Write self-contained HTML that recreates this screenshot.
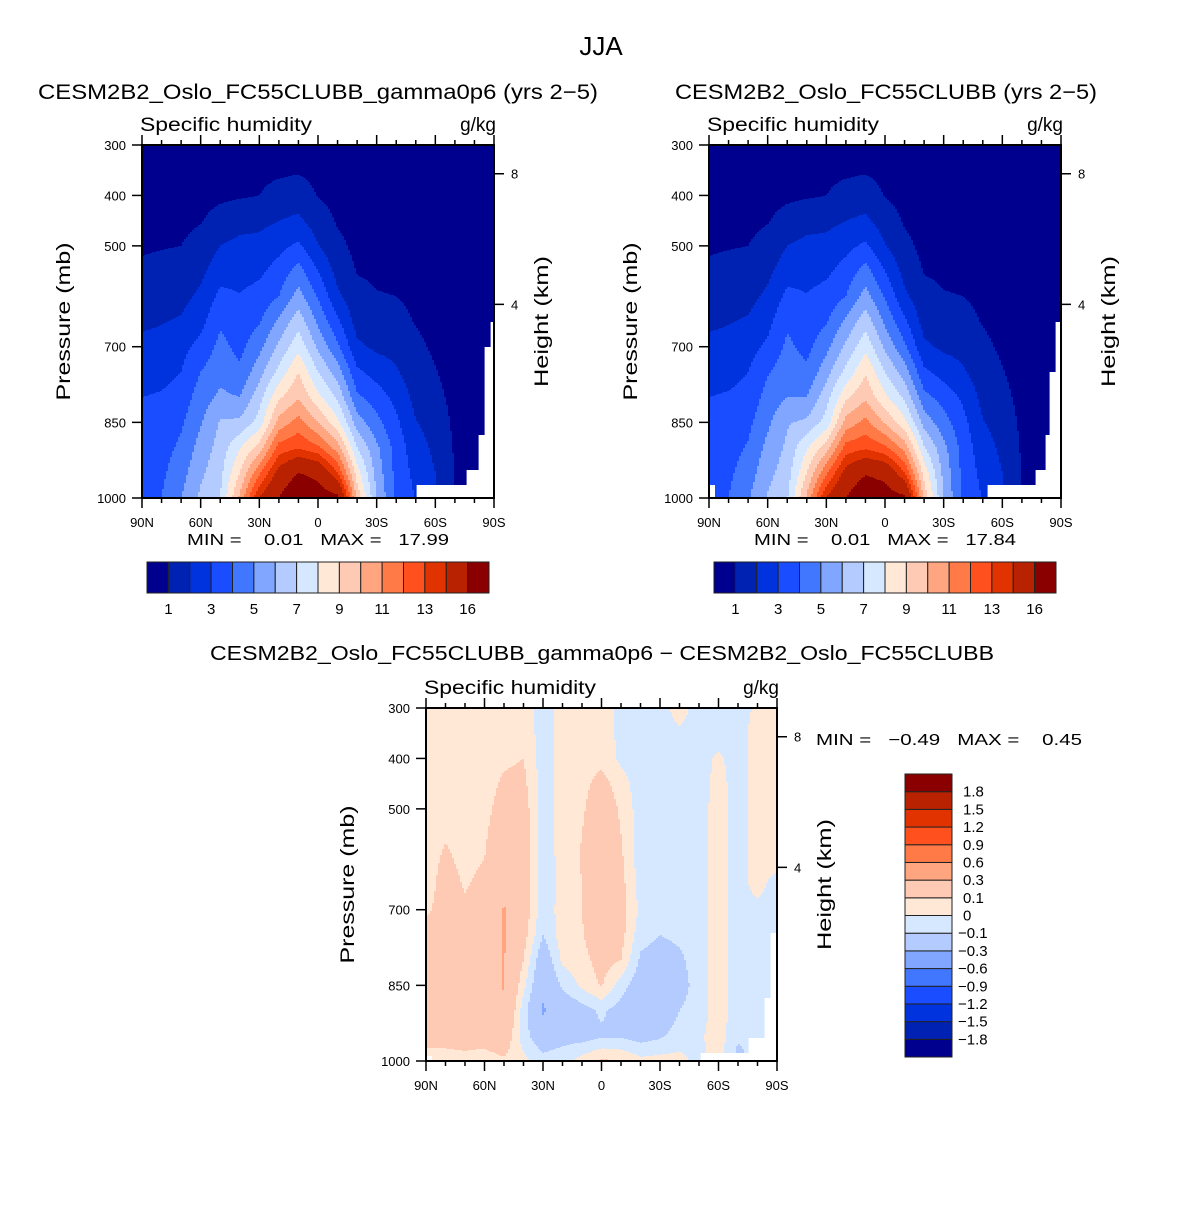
<!DOCTYPE html>
<html><head><meta charset="utf-8"><style>
html,body{margin:0;padding:0;background:#fff;}
svg{display:block;font-family:"Liberation Sans",Helvetica,sans-serif;}
svg text{white-space:pre;}
</style></head><body>
<svg id="fig" width="1204" height="1206" viewBox="0 0 1204 1206" xmlns="http://www.w3.org/2000/svg" xml:space="preserve">
<rect x="0" y="0" width="1204" height="1206" fill="#fff"/>
<text x="601" y="55" font-size="26" text-anchor="middle">JJA</text>
<text x="38" y="99" font-size="21" textLength="560" lengthAdjust="spacingAndGlyphs">CESM2B2_Oslo_FC55CLUBB_gamma0p6 (yrs 2−5)</text>
<text x="675" y="99" font-size="21" textLength="422" lengthAdjust="spacingAndGlyphs">CESM2B2_Oslo_FC55CLUBB (yrs 2−5)</text>
<text x="210" y="660" font-size="20" textLength="784" lengthAdjust="spacingAndGlyphs">CESM2B2_Oslo_FC55CLUBB_gamma0p6 − CESM2B2_Oslo_FC55CLUBB</text>
<g id="layer"></g>
</svg>
<script>
// ---------- data ----------
const lats = [90,80,70,60,50,40,30,20,10,0,-10,-20,-30,-40,-50,-60,-70,-80,-90];
const pLevels = [300,350,400,450,500,550,600,650,700,750,800,850,900,950,1000];
const qLeft = [
[.3,.45,.6,.75,.9,1.15,1.5,1.85,2.2,2.6,3.0,3.2,3.35,3.5,3.6],
[.3,.45,.6,.8,.95,1.25,1.6,1.95,2.3,2.7,3.1,3.4,3.6,3.8,4.0],
[.35,.5,.65,.8,1.0,1.3,1.7,2.1,2.7,3.0,3.4,3.85,4.2,4.6,5.0],
[.4,.55,.75,.95,1.3,1.75,2.2,2.7,3.3,4.0,4.5,4.9,5.4,5.8,6.2],
[.45,.65,.85,1.3,2.0,2.6,3.25,3.85,4.3,4.7,5.2,6.1,6.4,6.7,7.0],
[.5,.7,.9,1.6,2.3,2.65,3.05,3.4,3.7,4.2,5.0,6.2,7.9,9.0,10.2],
[.55,.8,1.0,1.75,2.3,2.8,3.35,3.9,4.7,5.6,6.6,7.4,9.4,11.8,14.1],
[.6,.85,1.3,2.0,2.7,3.4,4.0,5.2,6.2,7.3,8.8,10.4,12.4,14.5,16],
[.7,.9,1.5,2.2,3.2,4.4,5.4,6.6,7.7,9.0,9.9,11.4,12.9,16,18],
[.5,.75,.95,1.5,2.05,3.0,3.9,4.8,5.8,7.0,8.3,10,12.2,15.5,17],
[.35,.5,.7,.9,1.25,1.65,2.2,3.2,4.2,5.5,6.8,8.3,10.5,13,16.5],
[.3,.35,.45,.6,.75,.95,1.3,1.6,2.2,3.2,4.2,5.5,7.0,8.5,9.7],
[.25,.3,.4,.55,.7,.85,1.05,1.4,1.8,2.6,3.5,4.3,5.2,5.6,6.0],
[.2,.25,.3,.45,.6,.8,1.0,1.3,1.7,2.1,2.7,3.2,3.6,3.7,3.8],
[.2,.25,.3,.4,.5,.7,.8,.95,1.2,1.45,1.7,2.05,2.4,2.7,2.95],
[.15,.2,.25,.3,.35,.45,.55,.7,.85,1.05,1.3,1.6,1.8,2.0,2.1],
[.1,.12,.15,.2,.25,.3,.35,.4,.5,.6,.7,.8,.9,.95,1.0],
[.08,.1,.12,.15,.2,.25,.3,.35,.4,.45,.5,.55,.6,.65,.7],
[.05,.08,.1,.12,.15,.2,.25,.3,.35,.4,.45,.5,.55,.6,.65]];
const qRight = [
[.3,.45,.6,.75,.9,1.15,1.5,1.85,2.2,2.6,3.0,3.2,3.35,3.5,3.6],
[.3,.45,.6,.8,.95,1.25,1.6,1.95,2.3,2.7,3.1,3.4,3.6,3.8,4.0],
[.35,.5,.65,.8,1.0,1.3,1.7,2.1,2.6,3.0,3.3,3.75,4.1,4.5,4.9],
[.4,.55,.75,.95,1.3,1.75,2.2,2.7,3.2,3.9,4.4,4.8,5.3,5.7,6.1],
[.45,.65,.85,1.3,2.0,2.6,3.25,3.85,4.2,4.6,5.0,5.9,6.2,6.5,6.9],
[.5,.7,.9,1.6,2.3,2.65,3.05,3.4,3.7,4.2,5.0,6.2,7.9,9.0,10.2],
[.55,.8,1.0,1.75,2.3,2.8,3.35,3.9,4.7,5.6,6.6,7.4,9.5,11.8,14.1],
[.6,.85,1.3,2.0,2.7,3.4,4.0,5.2,6.2,7.3,8.8,10.4,12.4,14.5,16],
[.7,.9,1.5,2.2,3.2,4.4,5.4,6.6,7.7,8.9,9.8,11.3,12.8,15.8,17.8],
[.5,.75,.95,1.5,2.05,3.0,3.9,4.8,5.8,7.0,8.2,9.9,12.2,15.4,16.9],
[.35,.5,.7,.9,1.25,1.65,2.2,3.2,4.2,5.5,6.8,8.3,10.6,13,16.4],
[.3,.35,.45,.6,.75,.95,1.3,1.6,2.2,3.2,4.3,5.6,7.1,8.6,9.7],
[.25,.3,.4,.55,.7,.85,1.05,1.4,1.8,2.6,3.6,4.4,5.3,5.7,6.0],
[.2,.25,.3,.45,.6,.8,1.0,1.3,1.7,2.1,2.8,3.3,3.6,3.7,3.8],
[.2,.25,.3,.4,.5,.7,.8,.95,1.2,1.45,1.7,2.05,2.4,2.7,2.95],
[.15,.2,.25,.3,.35,.45,.55,.7,.85,1.05,1.3,1.6,1.8,2.0,2.1],
[.1,.12,.15,.2,.25,.3,.35,.4,.5,.6,.7,.8,.9,.95,1.0],
[.08,.1,.12,.15,.2,.25,.3,.35,.4,.45,.5,.55,.6,.65,.7],
[.05,.08,.1,.12,.15,.2,.25,.3,.35,.4,.45,.5,.55,.6,.65]];
const qDiff = [
[.05,.05,.05,.05,.05,.05,.05,.05,.08,.15,.15,.15,.15,.15,.05],
[.05,.05,.05,.05,.06,.09,.12,.15,.15,.16,.17,.17,.17,.15,.05],
[.05,.05,.05,.05,.05,.06,.07,.09,.12,.15,.17,.17,.17,.16,.06],
[.05,.05,.05,.05,.06,.08,.1,.13,.16,.18,.18,.18,.18,.15,.05],
[.05,.06,.08,.12,.16,.2,.24,.28,.31,.31,.31,.31,.29,.2,.08],
[.06,.07,.1,.13,.16,.18,.19,.19,.18,.15,.1,.03,-.05,-.05,.03],
[-.05,-.05,-.05,-.05,-.05,-.05,-.05,-.05,-.06,-.1,-.2,-.25,-.32,-.2,-.05],
[.04,.04,.04,.04,.04,.04,.03,.02,.04,.05,.02,-.08,-.2,-.15,-.03],
[.04,.05,.05,.06,.08,.1,.11,.1,.1,.09,.06,.02,-.15,-.15,.04],
[.03,.04,.06,.15,.2,.22,.28,.25,.22,.2,.15,.11,-.08,-.12,.12],
[-.02,-.02,-.02,.04,.08,.1,.12,.14,.15,.14,.1,-.05,-.15,-.12,.1],
[-.05,-.05,-.05,-.05,-.05,-.05,-.05,-.05,-.02,-.06,-.12,-.18,-.22,-.15,.03],
[-.05,-.05,-.05,-.05,-.05,-.05,-.05,-.05,-.06,-.1,-.15,-.22,-.2,-.12,.04],
[.05,-.02,-.05,-.05,-.05,-.05,-.05,-.05,-.05,-.08,-.12,-.15,-.1,-.05,.03],
[-.05,-.05,-.05,-.05,-.05,-.05,-.05,-.05,-.05,-.05,-.05,-.05,-.05,-.02,-.03],
[-.05,-.05,.02,.04,.05,.05,.05,.05,.05,.05,.05,.05,.05,.05,.05],
[-.05,-.05,-.05,-.05,-.05,-.05,-.05,-.05,-.05,-.05,-.05,-.05,-.05,-.08,-.15],
[.02,.05,.05,.05,.05,.05,.05,.04,-.03,-.05,-.05,-.05,-.05,-.05,-.05],
[.05,.05,.05,.05,.05,.05,.05,-.05,-.05,-.05,-.05,-.05,-.05,-.05,-.05]];
const levelsQ = [1,2,3,4,5,6,7,8,9,10,11,12,13,14,16];
const levelsD = [-1.8,-1.5,-1.2,-0.9,-0.6,-0.3,-0.1,0,0.1,0.3,0.6,0.9,1.2,1.5,1.8];
const labelsQ = ["1","3","5","7","9","11","13","16"];
const labelsD = ["1.8","1.5","1.2","0.9","0.6","0.3","0.1","0","−0.1","−0.3","−0.6","−0.9","−1.2","−1.5","−1.8"];
const palette = ["#00008f","#0022b3","#0033dd","#1a4dff","#4177ff","#80a6ff","#b4cbff","#d6e8ff","#ffe8d6","#ffcab3","#ffa680","#ff7a46","#ff501e","#e03300","#b82200","#8a0000"];
const maskLatL = [-50,-75.5,-82,-85,-88];
const maskPL = [975,945,875,700,650];
const maskLatR = [-52,-77,-82,-84,-87,87];
const maskPR = [975,945,875,750,650,975];
const maskLatD = [-51,-75,-83,-86,87];
const maskPD = [985,955,876,747,990];
const pTicks = [300,400,500,700,850,1000];
const latTicks = [90,60,30,0,-30,-60,-90];
const latTickLabels = ["90N","60N","30N","0","30S","60S","90S"];
const kmTicks = [8,4];
const kmTickP = [357,616];

// ---------- helpers ----------
const NS = "http://www.w3.org/2000/svg";
const layer = document.getElementById('layer');
function mk(tag, attrs, parent){const e=document.createElementNS(NS,tag);for(const k in attrs)e.setAttribute(k,attrs[k]);(parent||layer).appendChild(e);return e;}
function interp(grid, lat, p){
  let fi=(90-lat)/10, fj=(p-300)/50;
  fi=Math.max(0,Math.min(18,fi)); fj=Math.max(0,Math.min(14,fj));
  const i0=Math.min(17,Math.floor(fi)), j0=Math.min(13,Math.floor(fj));
  const a=fi-i0, b=fj-j0;
  return grid[i0][j0]*(1-a)*(1-b)+grid[i0+1][j0]*a*(1-b)+grid[i0][j0+1]*(1-a)*b+grid[i0+1][j0+1]*a*b;
}
function levIdx(v, levels){let k=0;while(k<levels.length&&v>=levels[k])k++;return k;}
function masked(lat,p,mLat,mP){for(let i=0;i<mLat.length;i++){const t=mLat[i];if((t<0?lat<t:lat>t)&&p>mP[i])return true;}return false;}

function panel(box, grid, levels, mLat, mP, name){
  const g=mk('g',{});
  
  
  const xOf=lat=>box.x+(90-lat)/180*box.w;
  const yOf=p=>box.y+(p-300)/700*box.h;
  const latOf=x=>90-(x-box.x)/box.w*180;
  const pOf=y=>300+(y-box.y)/box.h*700;
  for(let x=box.x;x<box.x+box.w;x+=2){
    const lat=latOf(x+1);
    let start=box.y, cur=null;
    for(let y=box.y;y<=box.y+box.h;y++){
      let c=null;
      if(y<box.y+box.h){const p=pOf(y+0.5); if(!masked(lat,p,mLat,mP)) c=palette[levIdx(interp(grid,lat,p),levels)];}
      else c='__end';
      if(c!==cur){
        if(cur&&cur!=='__end'){
          const r=mk('rect',{x:x,y:start,width:Math.min(2.6,box.x+box.w-x),height:y-start,fill:cur},g);
          
          
        }
        cur=c; start=y;
      }
    }
  }
  const fr=mk('rect',{x:box.x,y:box.y,width:box.w,height:box.h,fill:'none',stroke:'#000','stroke-width':2},g);
  
  
  for(let lat=90;lat>=-90;lat-=10){
    const x=xOf(lat), major=(lat%30===0);
    const t=mk('line',{x1:x,x2:x,y1:box.y+box.h,y2:box.y+box.h+(major?10:5),stroke:'#000','stroke-width':1.5},g);
    
    
    const t2=mk('line',{x1:x,x2:x,y1:box.y,y2:box.y-(major?10:5),stroke:'#000','stroke-width':1.5},g);
    
    
  }
  latTicks.forEach((lat,i)=>{
    const tx=mk('text',{x:xOf(lat),y:box.y+box.h+29,'font-size':13,'text-anchor':'middle'},g);
    tx.textContent=latTickLabels[i];
    
    
  });
  pTicks.forEach(p=>{
    const y=yOf(p);
    const t=mk('line',{x1:box.x-10,x2:box.x,y1:y,y2:y,stroke:'#000','stroke-width':1.5},g);
    
    
    const tx=mk('text',{x:box.x-16,y:y+5,'font-size':13,'text-anchor':'end'},g);
    tx.textContent=String(p);
    
    
  });
  kmTicks.forEach((k,i)=>{
    const y=yOf(kmTickP[i]);
    const t=mk('line',{x1:box.x+box.w,x2:box.x+box.w+10,y1:y,y2:y,stroke:'#000','stroke-width':1.5},g);
    
    
    const tx=mk('text',{x:box.x+box.w+17,y:y+5,'font-size':13},g);
    tx.textContent=String(k);
    
    
  });
  const cy=box.y+box.h/2;
  const yl=mk('text',{x:0,y:0,'font-size':19,'text-anchor':'middle',transform:`translate(${box.x-72},${cy}) rotate(-90)`,textLength:158,lengthAdjust:'spacingAndGlyphs'},g);
  yl.textContent='Pressure (mb)';
  
  
  const hl=mk('text',{x:0,y:0,'font-size':19,'text-anchor':'middle',transform:`translate(${box.x+box.w+54},${cy}) rotate(-90)`,textLength:131,lengthAdjust:'spacingAndGlyphs'},g);
  hl.textContent='Height (km)';
  
  
  const sh=mk('text',{x:box.x-2,y:box.y-14,'font-size':19,textLength:172,lengthAdjust:'spacingAndGlyphs'},g);
  sh.textContent='Specific humidity';
  
  
  const un=mk('text',{x:box.x+box.w+2,y:box.y-14,'font-size':19,'text-anchor':'end'},g);
  un.textContent='g/kg';
  
  
}

function hbar(x0,y0,w,h,name){
  const g=mk('g',{});
  
  
  const bw=w/palette.length;
  palette.forEach((c,i)=>{
    const r=mk('rect',{x:x0+i*bw,y:y0,width:bw,height:h,fill:c,stroke:'#222','stroke-width':1},g);
    
    
  });
  labelsQ.forEach((l,i)=>{
    const t=mk('text',{x:x0+(2*i+1)*bw,y:y0+h+21,'font-size':15,'text-anchor':'middle'},g);
    t.textContent=l;
    
    
  });
}
function vbar(x0,y0,w,h,name){
  const g=mk('g',{});
  
  
  const bh=h/palette.length;
  palette.forEach((c,i)=>{
    const r=mk('rect',{x:x0,y:y0+(palette.length-1-i)*bh,width:w,height:bh,fill:c,stroke:'#222','stroke-width':1},g);
    
    
  });
  labelsD.forEach((l,i)=>{
    const t=mk('text',{x:l.startsWith('−')?x0+w+6:x0+w+11,y:y0+(i+1)*bh+5,'font-size':15},g);
    t.textContent=l;
    
    
  });
}
function txt(x,y,s,size,name,len){
  const t=mk('text',{x:x,y:y,'font-size':size});
  if(len){t.setAttribute('textLength',len);t.setAttribute('lengthAdjust','spacingAndGlyphs');}
  t.textContent=s;
  
  
}

panel({x:142,y:145,w:352,h:353}, qLeft, levelsQ, maskLatL, maskPL, 'left');
panel({x:709,y:145,w:352,h:353}, qRight, levelsQ, maskLatR, maskPR, 'right');
panel({x:426,y:708,w:351,h:353}, qDiff, levelsD, maskLatD, maskPD, 'diff');
hbar(147,562,342,31,'left-colorbar');
hbar(714,562,342,31,'right-colorbar');
vbar(905,774,47,283,'diff-colorbar');
txt(187,545,'MIN =    0.01   MAX =   17.99',16,'left-min-max',262);
txt(754,545,'MIN =    0.01   MAX =   17.84',16,'right-min-max',262);
txt(816,745,'MIN =   −0.49   MAX =    0.45',16,'diff-min-max',266);
</script>
</body></html>
